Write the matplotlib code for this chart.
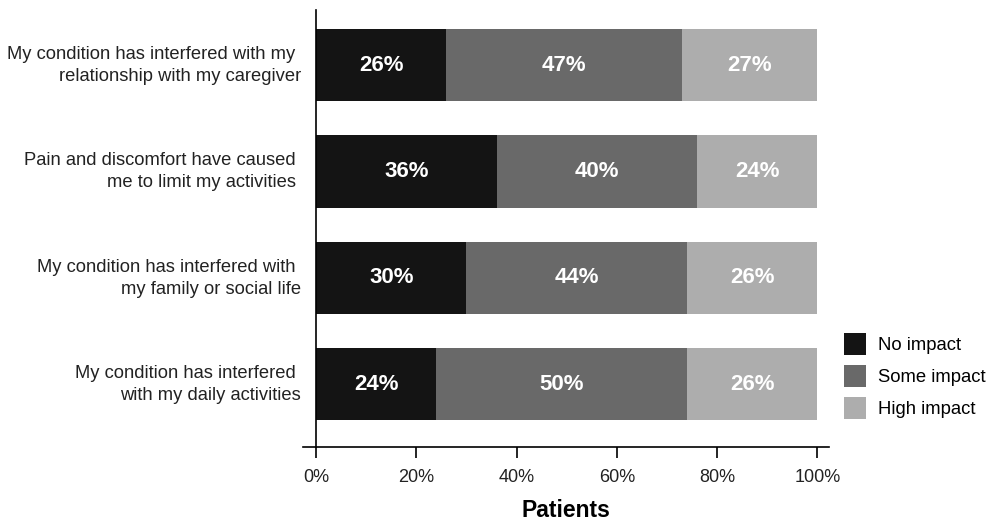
import matplotlib
matplotlib.use("Agg")
import matplotlib.pyplot as plt
import matplotlib.transforms as mtransforms
from matplotlib.ticker import FuncFormatter

plt.rcParams['font.family'] = ['Liberation Sans', 'DejaVu Sans']

categories = [
    "My condition has interfered with my \nrelationship with my caregiver",
    "Pain and discomfort have caused \nme to limit my activities ",
    "My condition has interfered with \nmy family or social life",
    "My condition has interfered \nwith my daily activities",
]
no_impact = [26, 36, 30, 24]
some_impact = [47, 40, 44, 50]
high_impact = [27, 24, 26, 26]
series_names = ["No impact", "Some impact", "High impact"]
colors = ["#141414", "#696969", "#adadad"]

fig = plt.figure(figsize=(10, 5.2), dpi=100)
ax = fig.add_axes([0.303, 0.1404, 0.526, 0.8404])

ypos = list(range(len(categories)))
left = [0] * len(categories)
for vals, name, col in zip([no_impact, some_impact, high_impact], series_names, colors):
    bars = ax.barh(ypos, vals, left=left, height=0.68, color=col, label=name)
    for b, v in zip(bars, vals):
        ax.text(b.get_x() + b.get_width() / 2, b.get_y() + b.get_height() / 2,
                f"{v}%", ha='center', va='center', color='white',
                fontsize=16, fontweight='bold')
    left = [l + v for l, v in zip(left, vals)]

ax.set_ylim(3.59, -0.52)
ax.set_xlim(-2.6, 102.3)
ax.set_yticks(ypos, categories)
ax.tick_params(axis='y', length=0, pad=11, labelsize=13.2, labelcolor='#222222')
ax.set_xticks([0, 20, 40, 60, 80, 100])
ax.xaxis.set_major_formatter(FuncFormatter(lambda v, p: f"{v:.0f}%"))
ax.tick_params(axis='x', length=8, width=1.2, labelsize=13, pad=8, labelcolor='#222222')
ax.set_xlabel("Patients", fontsize=16.5, fontweight='bold', labelpad=9)

ax.spines['top'].set_visible(False)
ax.spines['right'].set_visible(False)
ax.spines['left'].set_position(('data', 0))
ax.spines['left'].set_linewidth(1.2)
ax.spines['bottom'].set_linewidth(1.2)

ax.legend(loc='upper left', bbox_to_anchor=(0.844, 0.36), bbox_transform=fig.transFigure,
          frameon=False, fontsize=13.3, handlelength=1.19, handleheight=1.455,
          labelspacing=0.54, handletextpad=0.65, borderpad=0, borderaxespad=0)

# nudge the category labels up a little
shift = mtransforms.ScaledTranslation(0, 3 / 72, fig.dpi_scale_trans)
for lbl in ax.get_yticklabels():
    lbl.set_linespacing(1.38)
    lbl.set_transform(lbl.get_transform() + shift)

fig.savefig("out.png", dpi=100)
